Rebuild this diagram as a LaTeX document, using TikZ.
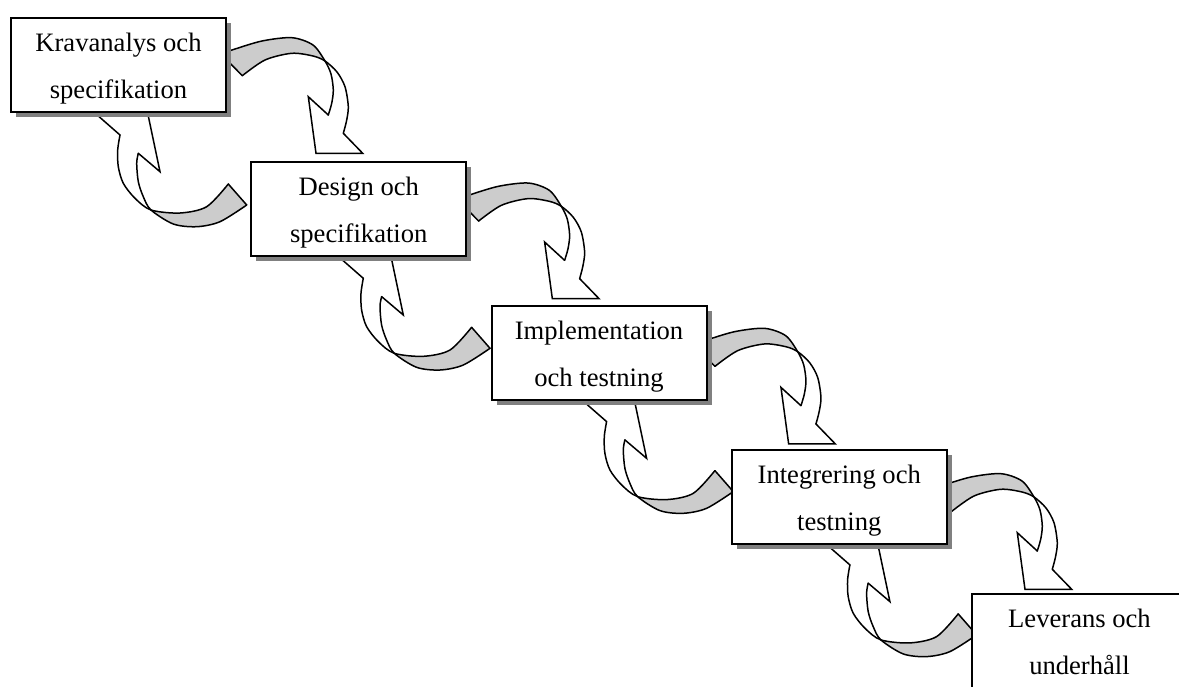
\documentclass[tikz,border=0pt]{standalone}
\usepackage{fontspec}
\setmainfont{Liberation Serif}[Ligatures=CommonOff]
\usetikzlibrary{shadows}
\definecolor{shadowgray}{HTML}{808080}
\definecolor{bandgray}{HTML}{CCCCCC}
% two text lines with fixed top and bottom padding
\newcommand\boxlines[2]{\rule{0pt}{26pt}#1\\\rule[-6pt]{0pt}{6pt}#2}

\tikzset{
  phasebox/.style={draw=black, line width=2pt, fill=white,
    minimum width=215pt, minimum height=94pt, inner sep=0pt,
    align=center, font=\fontsize{26.6}{47}\selectfont,
    drop shadow={shadow xshift=5pt, shadow yshift=-5pt, fill=shadowgray, opacity=1}},
  bandline/.style={draw=black, line width=1.5pt, line join=round, line cap=round},
  % curved band from a box down to the next phase
  fwdloop/.pic={
    \fill[bandgray] plot[smooth] coordinates {(221,54) (232,50) (262,41) (292,37.7) (313,45) (325,61)}
      -- plot[smooth] coordinates {(325,61) (313,56) (291.7,53.3) (265,60) (242.3,75.7)} -- cycle;
    \fill[white] plot[smooth] coordinates {(325,61) (337,72) (345,86.7) (348.3,106.7) (346.5,121) (343.3,133.3)}
      -- (362.7,153.3) -- (316,153.3) -- (308.3,96.7)
      -- plot[smooth] coordinates {(328.3,115) (331.7,103.3) (333.3,90) (331,74) (325,61)} -- cycle;
    \draw[bandline] plot[smooth] coordinates {(221,54) (232,50) (262,41) (292,37.7) (313,45) (325,61) (331,74) (333.3,90) (331.7,103.3) (328.3,115)};
    \draw[bandline] plot[smooth] coordinates {(242.3,75.7) (265,60) (291.7,53.3) (313,56) (325,61) (337,72) (345,86.7) (348.3,106.7) (346.5,121) (343.3,133.3)};
    \draw[bandline] (221,54) -- (242.3,75.7);
    \draw[bandline, line join=miter] (343.3,133.3) -- (362.7,153.3) -- (316,153.3) -- (308.3,96.7) -- (328.3,115);
  },
  % curved band from a box back up to the previous phase
  backloop/.pic={
    \fill[bandgray] plot[smooth] coordinates {(151,210) (180,213) (206.7,206.7) (228.3,184)}
      -- (246.7,205)
      -- plot[smooth] coordinates {(246.7,205) (220,221.7) (196.7,226.7) (173.3,224) (151,210)} -- cycle;
    \fill[white] (98.3,116)
      -- plot[smooth] coordinates {(120,135) (117.7,150) (118.3,166.7) (123.3,183.3) (135,198.3) (151,210)}
      -- plot[smooth] coordinates {(151,210) (143.3,196.7) (138.3,181.7) (136.7,163.3) (138.3,153.3)}
      -- (160,171.7) -- (148.3,116) -- cycle;
    \draw[bandline] plot[smooth] coordinates {(120,135) (117.7,150) (118.3,166.7) (123.3,183.3) (135,198.3) (151,210) (180,213) (206.7,206.7) (228.3,184)};
    \draw[bandline] plot[smooth] coordinates {(138.3,153.3) (136.7,163.3) (138.3,181.7) (143.3,196.7) (151,210) (173.3,224) (196.7,226.7) (220,221.7) (246.7,205)};
    \draw[bandline] (228.3,184) -- (246.7,205);
    \draw[bandline, line join=miter] (120,135) -- (98.3,116) -- (148.3,116) -- (160,171.7) -- (138.3,153.3);
  }
}

\begin{document}
\begin{tikzpicture}[x=1pt,y=-1pt]
\useasboundingbox (0,0) rectangle (1179,686);
\clip (0,0) rectangle (1179,686);

% loops between consecutive phases
\foreach \k in {0,...,3} {
  \pic at (236.33*\k,145.33*\k) {fwdloop};
  \pic at (243.3*\k,143.3*\k) {backloop};
}

% phase boxes
\node[phasebox] (b1) at (118.5,65)  {\boxlines{Kravanalys och}{specifikation}};
\node[phasebox] (b2) at (358.75,209) {\boxlines{Design och}{specifikation}};
\node[phasebox] (b3) at (599,353)    {\boxlines{Implementation}{och testning}};
\node[phasebox] (b4) at (839.25,497) {\boxlines{Integrering och}{testning}};
\node[phasebox] (b5) at (1079.5,641) {\boxlines{Leverans och}{underhåll}};
\end{tikzpicture}
\end{document}
